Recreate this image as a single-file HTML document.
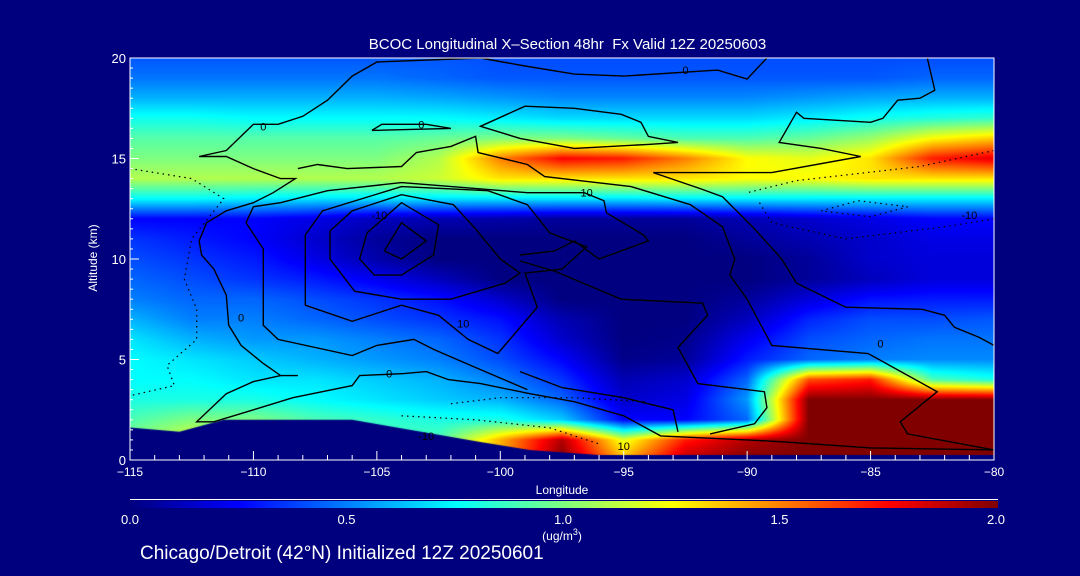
<!DOCTYPE html>
<html><head><meta charset="utf-8">
<style>
html,body{margin:0;padding:0;background:#00007f;}
#root{position:relative;width:1080px;height:576px;background:#00007f;overflow:hidden;font-family:"Liberation Sans",sans-serif;color:#fff;}
.t{position:absolute;white-space:nowrap;color:#fff;}
</style></head>
<body>
<div id="root">
<div class="t" style="left:0;width:1135px;text-align:center;top:36px;font-size:15px;">BCOC Longitudinal X&#8211;Section 48hr&nbsp; Fx Valid 12Z 20250603</div>
<canvas id="heat" width="864" height="402" style="position:absolute;left:130px;top:58px;"></canvas>
<svg id="ov" width="1080" height="576" style="position:absolute;left:0;top:0;"></svg>
<div class="t" style="left:93px;top:258px;font-size:12px;transform:translate(-50%,-50%) rotate(-90deg);">Altitude (km)</div>
<div class="t" style="left:562px;top:483px;font-size:12px;transform:translateX(-50%);">Longitude</div>
<canvas id="cbar" width="868" height="7" style="position:absolute;left:130px;top:501px;"></canvas>
<div style="position:absolute;left:130px;top:499px;width:868px;height:1px;background:#fff;"></div>
<div class="t" style="left:562px;top:527px;font-size:12px;transform:translateX(-50%);">(ug/m<sup style="font-size:9px;">3</sup>)</div>
<div class="t" style="left:140px;top:543px;font-size:19px;">Chicago/Detroit (42°N) Initialized 12Z 20250601</div>
</div>
<script>
const lons=[-115,-112.5,-110,-107.5,-105,-102.5,-100,-97.5,-95,-92.5,-90,-87.5,-85,-82.5,-80];
const alts=[20,19,18,17,16,15,14,13,12,11,10,9,8,7,6,5,4,3,2,1,0];
const r20=[0.42,0.42,0.42,0.42,0.42,0.42,0.4,0.4,0.4,0.4,0.4,0.4,0.4,0.4,0.4];
const r19=[0.48,0.48,0.48,0.48,0.48,0.45,0.42,0.42,0.42,0.42,0.42,0.42,0.42,0.45,0.45];
const r18=[0.6,0.6,0.6,0.6,0.6,0.58,0.55,0.52,0.52,0.52,0.52,0.55,0.58,0.6,0.6];
const r17=[0.78,0.78,0.75,0.75,0.75,0.75,0.72,0.68,0.68,0.68,0.68,0.72,0.78,0.82,0.85];
const r16=[0.92,0.92,0.92,0.92,0.92,0.95,1.0,1.0,0.95,0.9,0.9,0.95,1.05,1.25,1.35];
const r15=[1.0,1.0,1.0,1.0,1.0,1.1,1.5,1.75,1.7,1.5,1.25,1.2,1.3,1.7,1.8];
const r14=[1.1,1.1,1.1,1.1,1.1,1.15,1.3,1.3,1.3,1.3,1.25,1.25,1.3,1.3,1.3];
const r13=[0.75,0.75,0.72,0.7,0.7,0.7,0.7,0.7,0.7,0.72,0.72,0.72,0.72,0.72,0.72];
const r12=[0.25,0.25,0.25,0.2,0.12,0.1,0.08,0.05,0.05,0.05,0.1,0.15,0.2,0.25,0.25];
const r11=[0.35,0.3,0.25,0.15,0.05,0.0,0.0,0.0,0.0,0.0,0.05,0.1,0.15,0.2,0.2];
const r10=[0.4,0.35,0.3,0.2,0.08,0.0,0.0,0.0,0.0,0.0,0.0,0.05,0.15,0.18,0.18];
const r9=[0.45,0.4,0.35,0.3,0.22,0.12,0.0,0.0,0.0,0.0,0.0,0.05,0.12,0.18,0.18];
const r8=[0.5,0.45,0.45,0.4,0.35,0.28,0.15,0.0,0.0,0.0,0.05,0.18,0.28,0.3,0.3];
const r7=[0.6,0.5,0.5,0.45,0.4,0.35,0.28,0.1,0.0,0.0,0.12,0.32,0.4,0.4,0.42];
const r6=[0.7,0.6,0.55,0.55,0.5,0.45,0.35,0.15,0.0,0.02,0.22,0.4,0.45,0.48,0.48];
const r5=[0.75,0.7,0.65,0.6,0.55,0.5,0.4,0.25,0.02,0.05,0.3,0.45,0.5,0.52,0.52];
const r4=[0.75,0.75,0.7,0.7,0.65,0.6,0.5,0.35,0.1,0.15,0.45,1.6,1.7,0.9,0.8];
const r3=[0.8,0.8,0.8,0.75,0.7,0.65,0.6,0.45,0.15,0.2,0.55,2.0,2.0,2.0,2.0];
const r2=[0.9,1.0,1.0,0.9,0.85,0.8,0.8,0.65,0.25,0.25,0.45,2.0,2.0,2.0,2.0];
const r1=[1.0,1.2,1.0,0.9,0.9,0.9,1.4,1.9,1.2,1.7,1.9,2.0,2.0,2.0,2.0];
const r0=[1.0,1.2,1.0,0.9,0.9,0.9,1.4,2.0,1.4,1.9,2.0,2.0,2.0,2.0,2.0];
const grid=[r20,r19,r18,r17,r16,r15,r14,r13,r12,r11,r10,r9,r8,r7,r6,r5,r4,r3,r2,r1,r0];
const terrainLon=[-115,-113,-111.2,-106,-104.9,-100.8,-98.8,-96,-95,-80];
const terrainAlt=[1.62,1.4,2.0,2.0,1.77,0.9,0.5,0.1,0,0];
const xTicks=[-115,-110,-105,-100,-95,-90,-85,-80];
const yTicks=[0,5,10,15,20];
const cbTicks=[0.0,0.5,1.0,1.5,2.0];
const cStops=[0,0.25,0.75,1.25,1.75,2.0];
const cColors=[[0,0,128],[0,0,255],[0,255,255],[255,255,0],[255,0,0],[128,0,0]];
const contoursSolid=[
[[-100.8,20],[-105,19.8],[-106,19.1],[-107,17.9],[-108,17.1],[-109,16.7],[-110,16.7],[-111.1,15.4],[-112.2,15.1],[-111.1,15.1],[-110,14.5],[-108.9,14],[-108.3,14],[-109.2,13.3],[-110,12.8],[-111.1,12.4],[-111.9,11.8],[-112.2,10.9],[-112.1,10.2],[-111.6,9.5],[-111.1,8.2],[-111,6.7],[-110.5,5.7],[-109.6,4.8],[-108.9,4.2],[-108.2,4.2]],
[[-100.8,20],[-99,19.6],[-97,19.2],[-95,19.1],[-91.2,19.4],[-90,18.95],[-89.2,20]],
[[-108.9,4.2],[-110,3.9],[-111.1,3.3],[-112.3,1.9],[-111.6,1.9],[-110,2.5],[-108.4,3.1],[-106,3.7],[-105.7,4.2],[-103.9,4.3],[-103,4.4],[-102.1,4],[-100.8,3.8],[-98.8,3.3],[-97,2.9],[-95,2.2],[-93.5,1.2],[-90,1.0],[-88.5,0.9],[-85,0.6],[-80,0.5]],
[[-80,5.7],[-80.6,6.1],[-81.6,6.6],[-82,7.2],[-82.9,7.5],[-86,7.6],[-86.5,7.9],[-88,8.8],[-88.6,10],[-89.7,11.5],[-91,13.1],[-91.9,13.5],[-93.8,14.3],[-91,14.3],[-89,14.3],[-85.4,15.1],[-87,15.5],[-88.7,15.8],[-88,17.3],[-87.7,17],[-85,16.8],[-84.5,17],[-83.9,17.9],[-83,18],[-82.4,18.4],[-82.7,20]],
[[-108.2,14.5],[-107.4,14.7],[-106.2,14.5],[-104,14.6],[-103.4,15.3],[-102,15.6],[-101,16.1],[-100.9,15.3],[-98.9,14.7],[-98.2,14.1],[-94.7,13.6],[-92.3,12.7],[-91,11.6],[-90.5,10],[-90.7,9.2],[-90,8],[-89,5.7],[-85.1,5.3],[-82.3,3.4],[-83.8,1.9],[-83.5,1.3],[-80,0.5]],
[[-92.8,15.8],[-94,16.1],[-94.3,16.8],[-95.1,17.2],[-97,17.5],[-99,17.6],[-100.8,16.6],[-99.2,16],[-97,15.5],[-94,15.7],[-92.8,15.8]],
[[-105.2,16.4],[-104.8,16.7],[-103,16.7],[-102,16.5],[-105.2,16.4]],
[[-104.7,10.4],[-104,11.8],[-103,10.9],[-104,10],[-104.7,10.4]],
[[-105.4,11.3],[-104,12.8],[-102.5,11.7],[-102.7,10.2],[-104,9.2],[-105.1,9.2],[-105.7,10],[-105.4,11.3]],
[[-106.9,11.4],[-106,12.4],[-104,13.2],[-101.9,12.7],[-101,11.5],[-100,10],[-99.2,9.3],[-99.8,8.8],[-102,8.0],[-104,8],[-105.9,8.4],[-106.9,10],[-106.9,11.4]],
[[-107.9,11.2],[-107.2,12.4],[-104,13.6],[-100.5,13.4],[-98.9,12.7],[-98,11.3],[-96.5,10.6],[-97.5,9.5],[-99,9.3],[-98.5,7.6],[-100.1,5.3],[-101.3,6],[-102.5,7.2],[-104,7.7],[-106,6.9],[-107.9,7.7],[-107.9,11.2]],
[[-110.3,11.8],[-110,12.6],[-108.9,12.8],[-107,13.4],[-104,13.8],[-98.9,13.3],[-96.6,13.3],[-95.8,12.9],[-95.7,12.3],[-94.2,11.2],[-94,10.9],[-96,10],[-97,10.9],[-97.8,10.4],[-99.2,10.2]],
[[-110.3,11.8],[-109.6,10.5],[-109.6,6.7],[-109,6],[-106,5.2],[-105,5.7],[-103.5,6],[-102.7,5.5],[-100.8,4.5],[-98.9,3.5]],
[[-99.2,9.9],[-97.8,9.4],[-95.1,8],[-91.8,7.8],[-91.6,7.2],[-92.8,5.6],[-92,3.8],[-89.3,3.4],[-89.2,2.6],[-89.7,1.8],[-91.5,1.3]],
[[-99.2,4.4],[-97.5,3.6],[-95,3.1],[-93,2.5],[-92.8,1.4]]
];
const contoursDotted=[
[[-115,14.5],[-112.5,14],[-111.2,13],[-112.5,11],[-112.8,9],[-112.3,7.5],[-112.3,6],[-113.5,4.7],[-113.2,3.7],[-115,3.2]],
[[-80,15.4],[-83,14.6],[-88,13.9],[-90,13.3]],
[[-89.5,12.8],[-89,11.8],[-86,11],[-82,11.6],[-80,12]],
[[-87,12.4],[-85.5,12.9],[-83.5,12.6],[-85,12.1],[-87,12.4]],
[[-102,2.8],[-100,3.1],[-97,3.1],[-94,2.9]],
[[-104,2.2],[-101,2.0],[-98,1.6],[-96,0.8]]
];
const labelTexts=["0","0","0","0","0","-10","10","10","0","-10","10","-10"];
const labelLon=[-109.6,-103.2,-104.5,-92.5,-84.6,-104.9,-96.5,-101.5,-110.5,-103,-95,-81];
const labelAlt=[16.6,16.7,4.3,19.4,5.8,12.2,13.3,6.8,7.1,1.2,0.7,12.2];

const X0=130,X1=994,Y0=460,Y1=58;
function xs(l){return X0+(l-(-115))/35*(X1-X0);}
function ys(a){return Y0-(a/20)*(Y0-Y1);}
function cmap(v){v=Math.max(0,Math.min(2,v));for(let i=0;i<cStops.length-1;i++){if(v<=cStops[i+1]){const t=(v-cStops[i])/(cStops[i+1]-cStops[i]);const a=cColors[i],b=cColors[i+1];return [a[0]+(b[0]-a[0])*t,a[1]+(b[1]-a[1])*t,a[2]+(b[2]-a[2])*t];}}return cColors[cColors.length-1];}
function val(lon,alt){
  let fi=(lon-lons[0])/(lons[1]-lons[0]);fi=Math.max(0,Math.min(lons.length-1.0001,fi));
  let fj=(alts[0]-alt)/(alts[0]-alts[1]);fj=Math.max(0,Math.min(alts.length-1.0001,fj));
  const i=Math.floor(fi),j=Math.floor(fj),u=fi-i,w=fj-j;
  return grid[j][i]*(1-u)*(1-w)+grid[j][i+1]*u*(1-w)+grid[j+1][i]*(1-u)*w+grid[j+1][i+1]*u*w;
}
const hc=document.getElementById('heat'),hx=hc.getContext('2d');
const W=hc.width,H=hc.height,img=hx.createImageData(W,H);
for(let py=0;py<H;py++){for(let px=0;px<W;px++){
  const lon=-115+(px+0.5)/(X1-X0)*35, alt=(Y0-(Y1+py+0.5))/(Y0-Y1)*20;
  const c=cmap(val(lon,alt));const k=(py*W+px)*4;
  img.data[k]=c[0];img.data[k+1]=c[1];img.data[k+2]=c[2];img.data[k+3]=255;}}
hx.putImageData(img,0,0);
hx.fillStyle='#00007f';hx.beginPath();
hx.moveTo(xs(terrainLon[0])-X0,ys(0)-Y1);
for(let i=0;i<terrainLon.length;i++)hx.lineTo(xs(terrainLon[i])-X0,Math.min(ys(terrainAlt[i]),ys(0)-5)-Y1);
hx.lineTo(xs(-80)-X0,ys(0)-Y1);hx.closePath();hx.fill();
hx.fillRect(0,H-5,W,5);
const cc=document.getElementById('cbar'),cx=cc.getContext('2d');
for(let px=0;px<cc.width;px++){const c=cmap(px/(cc.width-1)*2);cx.fillStyle='rgb('+c.map(Math.round).join(',')+')';cx.fillRect(px,0,1,cc.height);}
const NS='http://www.w3.org/2000/svg',ov=document.getElementById('ov');
function mk(tag,attrs){const e=document.createElementNS(NS,tag);for(const k in attrs)e.setAttribute(k,attrs[k]);ov.appendChild(e);return e;}
contoursSolid.forEach(c=>{
  const p=mk('polyline',{points:c.map(q=>xs(q[0]).toFixed(1)+','+ys(q[1]).toFixed(1)).join(' '),fill:'none',stroke:'#000','stroke-width':1.4});
  
  
});
contoursDotted.forEach(c=>{
  const p=mk('polyline',{points:c.map(q=>xs(q[0]).toFixed(1)+','+ys(q[1]).toFixed(1)).join(' '),fill:'none',stroke:'#000','stroke-width':1.2,'stroke-dasharray':'1.5,4'});
  
  
});
labelTexts.forEach((t,i)=>{
  const e=mk('text',{x:xs(labelLon[i]),y:ys(labelAlt[i])+4,'font-size':11,fill:'#000','text-anchor':'middle','font-family':'Liberation Sans, sans-serif'});
  e.textContent=t;
  
  
});
const fr=mk('rect',{x:X0,y:Y1,width:X1-X0,height:Y0-Y1,fill:'none',stroke:'#fff','stroke-width':1});


for(let l=-115;l<=-80;l++){
  const major=(l%5===0);
  const t=mk('line',{x1:xs(l),x2:xs(l),y1:Y0,y2:Y0-(major?9:5),stroke:'#fff','stroke-width':1});
  
  
}
for(let a=0;a<=20;a+=0.5){
  const major=(a%5===0);
  const t=mk('line',{x1:X0,x2:X0+(major?9:3),y1:ys(a),y2:ys(a),stroke:'#fff','stroke-width':1});
  
  
}
xTicks.forEach(l=>{
  const e=mk('text',{x:xs(l),y:Y0+16,'font-size':12,fill:'#fff','text-anchor':'middle','font-family':'Liberation Sans, sans-serif'});
  e.textContent=(l<0?'\u2212'+(-l):String(l));
  
  
});
yTicks.forEach(a=>{
  const e=mk('text',{x:X0-4,y:ys(a)+5,'font-size':13,fill:'#fff','text-anchor':'end','font-family':'Liberation Sans, sans-serif'});
  e.textContent=String(a);
  
  
});
cbTicks.forEach(v=>{
  const e=mk('text',{x:130+v/2*866,y:524,'font-size':13,fill:'#fff','text-anchor':'middle','font-family':'Liberation Sans, sans-serif'});
  e.textContent=v.toFixed(1);
  
  
});
</script>
</body></html>
